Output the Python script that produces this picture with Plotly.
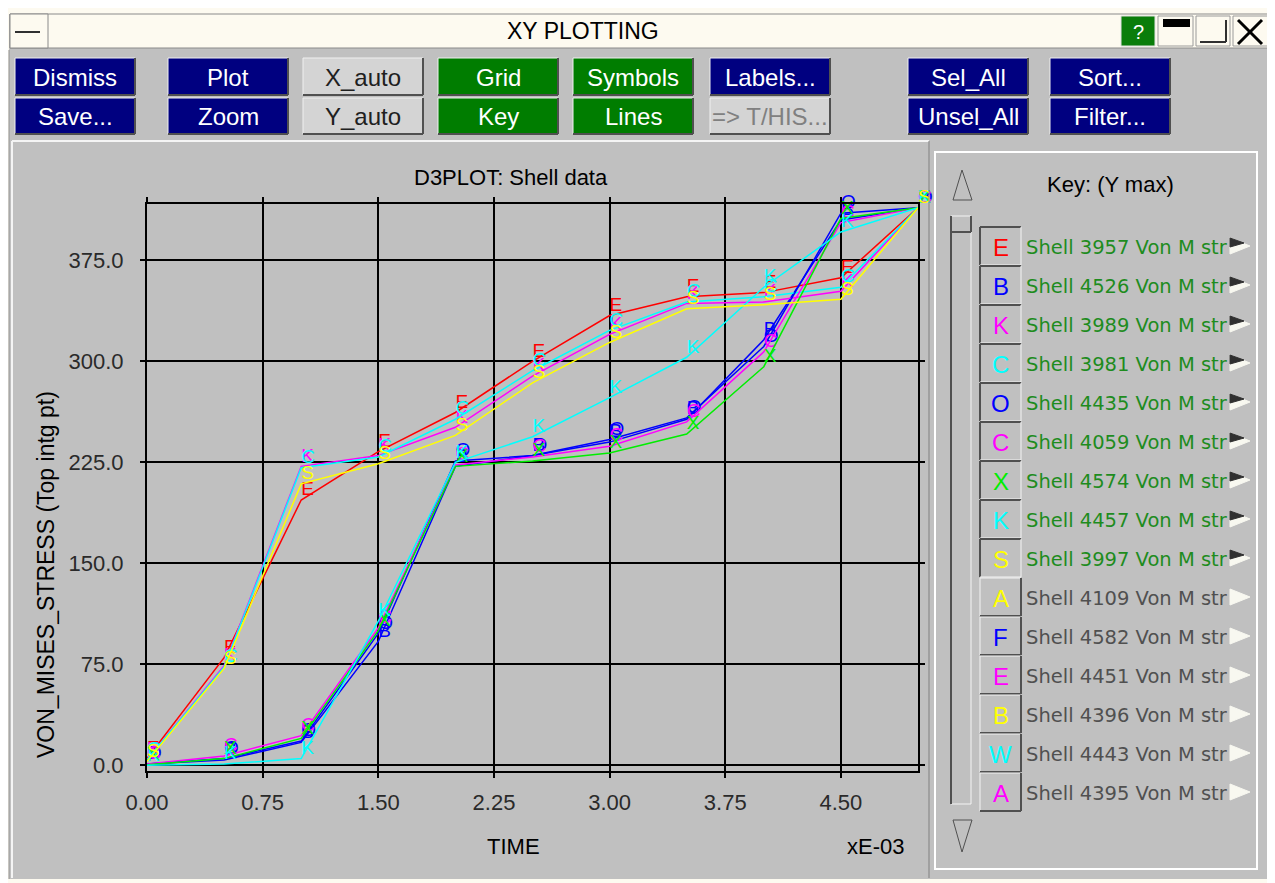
import plotly.graph_objects as go

# ---------------- data ----------------
TIME = [0.0, 0.5, 1.0, 1.5, 2.0, 2.5, 3.0, 3.5, 4.0, 4.5, 5.0]

SERIES_NAMES = ["Shell 3957", "Shell 4526", "Shell 3989", "Shell 3981", "Shell 4435",
                "Shell 4059", "Shell 4574", "Shell 4457", "Shell 3997"]
SERIES_SYMBOLS = ["E", "B", "K", "C", "O", "C", "X", "K", "S"]

s3957 = [5, 80, 197, 233, 262, 300, 334, 348, 351, 362, 414]
s4526 = [1, 4, 17, 92, 222, 230, 240, 257, 316, 405, 414]
s3989 = [4, 74, 222, 230, 251, 289, 320, 343, 344, 352, 414]
s3981 = [4, 73, 221, 229, 257, 293, 323, 344, 348, 355, 414]
s4435 = [1, 5, 18, 98, 226, 230, 242, 258, 311, 410, 414]
s4059 = [1, 7, 22, 102, 223, 229, 237, 255, 307, 403, 414]
s4574 = [0.5, 5, 20, 100, 222, 226, 232, 246, 296, 406, 414]
s4457 = [0, 1, 5, 107, 225, 244, 273, 303, 355, 396, 414]
s3997 = [3, 72, 209, 224, 245, 284, 314, 339, 342, 346, 414]
SERIES_VALUES = [s3957, s4526, s3989, s3981, s4435, s4059, s4574, s4457, s3997]

X_TICKS = [0.0, 0.75, 1.5, 2.25, 3.0, 3.75, 4.5]
X_TICKTEXT = ["0.00", "0.75", "1.50", "2.25", "3.00", "3.75", "4.50"]
Y_TICKS = [0, 75, 150, 225, 300, 375]
Y_TICKTEXT = ["0.0", "75.0", "150.0", "225.0", "300.0", "375.0"]

KEY_SYMBOLS = ["E", "B", "K", "C", "O", "C", "X", "K", "S", "A", "F", "E", "B", "W", "A"]
KEY_LABELS = ["Shell 3957 Von M str", "Shell 4526 Von M str", "Shell 3989 Von M str",
              "Shell 3981 Von M str", "Shell 4435 Von M str", "Shell 4059 Von M str",
              "Shell 4574 Von M str", "Shell 4457 Von M str", "Shell 3997 Von M str",
              "Shell 4109 Von M str", "Shell 4582 Von M str", "Shell 4451 Von M str",
              "Shell 4396 Von M str", "Shell 4443 Von M str", "Shell 4395 Von M str"]
KEY_SELECTED = [True] * 9 + [False] * 6

# ---------------- styles ----------------
RED, BLUE, MAG, CYAN, GREEN, YEL = "#ff0000", "#0000ff", "#ff00ff", "#00ffff", "#00ee00", "#ffff00"
SERIES_COLORS = [RED, BLUE, MAG, CYAN, BLUE, MAG, GREEN, CYAN, YEL]
KEY_COLORS = [RED, BLUE, MAG, CYAN, BLUE, MAG, GREEN, CYAN, YEL, YEL, BLUE, MAG, YEL, CYAN, MAG]

OFF = 8  # page body margin in the browser
W, H = 1275 - OFF, 883 - OFF
# screen-pixel plot area: x 147..918, y 204..771
ML = 147 - OFF
MT = 204 - OFF
MR = W - (918 - OFF)
MB = H - (771 - OFF)
PW = W - ML - MR
PH = H - MT - MB
GRAY = "#c0c0c0"
CREAM = "#fdfaf0"
FONT = "Liberation Sans, Arial, sans-serif"


def px(x):
    return (x - OFF - ML) / PW


def py(y):
    return (H - MB - (y - OFF)) / PH


shapes = []
annots = []


def rect(x0, y0, x1, y1, fill=None, line=None, lw=1):
    shapes.append(dict(type="rect", xref="paper", yref="paper",
                       x0=px(x0), x1=px(x1), y0=py(y0), y1=py(y1),
                       fillcolor=fill if fill else "rgba(0,0,0,0)",
                       line=dict(color=line if line else "rgba(0,0,0,0)", width=lw if line else 0),
                       layer="above"))


def line(x0, y0, x1, y1, color, lw=1):
    shapes.append(dict(type="line", xref="paper", yref="paper",
                       x0=px(x0), x1=px(x1), y0=py(y0), y1=py(y1),
                       line=dict(color=color, width=lw), layer="above"))


def path(pts, fill, color=None, lw=1):
    d = "M" + " L".join(f"{px(a)},{py(b)}" for a, b in pts) + " Z"
    shapes.append(dict(type="path", xref="paper", yref="paper", path=d,
                       fillcolor=fill, line=dict(color=color if color else fill, width=lw),
                       layer="above"))


def text(x, y, s, size, color="#000000", anchor="center", family=FONT, angle=0):
    annots.append(dict(x=px(x), y=py(y), xref="paper", yref="paper", text=s,
                       showarrow=False, xanchor=anchor, yanchor="middle",
                       textangle=angle, font=dict(size=size, color=color, family=family)))


# ---------------- window chrome ----------------
rect(0, 0, 1275, 14, fill=CREAM)
rect(0, 0, 9, 883, fill=CREAM)
rect(1268, 0, 1275, 883, fill=CREAM)
rect(0, 879, 1275, 883, fill=CREAM)
line(9, 50, 9, 879, "#909090", 1)
# title bar
rect(10, 14, 1268, 48, fill=CREAM, line="#8a8a8a", lw=1)
rect(10, 14, 48, 48, fill=CREAM, line="#8a8a8a", lw=1)
line(15, 32, 40, 32, "#303030", 2)
text(583, 31, "XY PLOTTING", 23)
rect(1121, 16, 1155, 46, fill="#0a7d0a", line="#e0e0e0")
text(1138, 32, "?", 20, "#ffffff")
rect(1158, 16, 1193, 46, fill=CREAM, line="#9a9a9a")
rect(1163, 19, 1190, 27, fill="#000000")
rect(1196, 16, 1230, 46, fill=CREAM, line="#9a9a9a")
line(1200, 42, 1226, 42, "#303030", 2)
line(1226, 20, 1226, 42, "#303030", 2)
rect(1233, 16, 1268, 46, fill=CREAM, line="#9a9a9a")
line(1238, 20, 1262, 44, "#000000", 3)
line(1262, 20, 1238, 44, "#000000", 3)

# buttons
NAVY, BGREEN, LGRAY = "#000080", "#007d00", "#d4d4d4"
cols = [(15, 135), (168, 288), (303, 423), (438, 558), (573, 693), (710, 830), (908, 1028), (1050, 1170)]
row1 = [("Dismiss", NAVY), ("Plot", NAVY), ("X_auto", LGRAY), ("Grid", BGREEN),
        ("Symbols", BGREEN), ("Labels...", NAVY), ("Sel_All", NAVY), ("Sort...", NAVY)]
row2 = [("Save...", NAVY), ("Zoom", NAVY), ("Y_auto", LGRAY), ("Key", BGREEN),
        ("Lines", BGREEN), ("=> T/HIS...", LGRAY), ("Unsel_All", NAVY), ("Filter...", NAVY)]
for (y0, y1), row in [((58, 95), row1), ((98, 134), row2)]:
    for (x0, x1), (lab, col) in zip(cols, row):
        rect(x0, y0, x1, y1, fill=col)
        line(x0, y0, x1, y0, "#f0f0f0", 1)
        line(x0, y0, x0, y1, "#f0f0f0", 1)
        line(x0, y1, x1, y1, "#505050", 2)
        line(x1, y0, x1, y1, "#505050", 2)
        if col == LGRAY:
            tc = "#808080" if lab.startswith("=>") else "#202020"
        else:
            tc = "#ffffff"
        text((x0 + x1) / 2, (y0 + y1) / 2 + 1, lab, 24, tc)

# plot panel border
line(12, 141, 929, 141, "#f4f4f4", 2)
line(12, 141, 12, 878, "#f4f4f4", 2)
line(929, 141, 929, 878, "#808080", 1)

# key panel
rect(935, 152, 1257, 869, line="#ffffff", lw=2)
text(1110, 184, "Key: (Y max)", 22)
path([(962, 170), (953, 200), (972, 200)], "rgba(0,0,0,0)", "#505050", 1)
path([(953, 820), (972, 820), (962, 852)], "rgba(0,0,0,0)", "#505050", 1)
rect(951, 216, 971, 804, fill=GRAY, line="#f4f4f4")
line(951, 216, 951, 804, "#505050", 2)
line(951, 232, 971, 232, "#505050", 2)
line(971, 216, 971, 232, "#505050", 2)

for i, (sym, col, lab, sel) in enumerate(zip(KEY_SYMBOLS, KEY_COLORS, KEY_LABELS, KEY_SELECTED)):
    y0 = 227 + 39 * i
    y1 = y0 + 38
    yc = (y0 + y1) / 2
    rect(980, y0, 1021, y1, fill=GRAY)
    if sel:
        line(980, y0, 1021, y0, "#505050", 2)
        line(980, y0, 980, y1, "#505050", 2)
        line(980, y1, 1021, y1, "#f4f4f4", 1)
        line(1021, y0, 1021, y1, "#f4f4f4", 1)
    else:
        line(980, y0, 1021, y0, "#f4f4f4", 1)
        line(980, y0, 980, y1, "#f4f4f4", 1)
        line(980, y1, 1021, y1, "#505050", 2)
        line(1021, y0, 1021, y1, "#505050", 2)
    text(1000.5, yc + 1, sym, 24, col)
    text(1024, yc + 1, lab, 19.5, "#1e8c1e" if sel else "#505050", anchor="left",
         family="DejaVu Sans, Verdana, sans-serif")
    rect(1229, y0 + 4, 1234, y1 - 4, fill=GRAY)
    path([(1230, yc - 8), (1250, yc), (1230, yc + 8)], "#f8f8f0")
    if sel:
        path([(1230, yc - 8), (1244, yc - 3), (1230, yc + 1)], "#303030")

# axis titles / texts
text(511, 178, "D3PLOT: Shell data", 22)
text(513, 846, "TIME", 22)
text(875, 846, "xE-03", 22)
text(46, 575, "VON_MISES_STRESS (Top intg pt)", 23, angle=-90)

# ---------------- traces ----------------
fig = go.Figure()
for name, sym, col, vals in zip(SERIES_NAMES, SERIES_SYMBOLS, SERIES_COLORS, SERIES_VALUES):
    fig.add_trace(go.Scatter(
        x=TIME, y=vals, name=name, mode="lines+text",
        text=[sym] * len(TIME), textposition="top right",
        textfont=dict(size=19, color=col, family=FONT),
        line=dict(color=col, width=1.5), cliponaxis=False, showlegend=False))

axis_common = dict(showgrid=True, gridcolor="#000000", gridwidth=2,
                   showline=True, linecolor="#000000", linewidth=2, mirror="allticks",
                   ticks="outside", ticklen=5, tickwidth=2, tickcolor="#000000",
                   tickfont=dict(size=22, color="#2a2a2a", family=FONT))
fig.update_xaxes(range=[0, 5.0], tickmode="array", tickvals=X_TICKS, ticktext=X_TICKTEXT,
                 zeroline=False, ticklabelstandoff=6, **axis_common)
fig.update_yaxes(range=[-4.2, 416.8], tickmode="array", tickvals=Y_TICKS, ticktext=Y_TICKTEXT,
                 zeroline=True, zerolinecolor="#000000", zerolinewidth=2,
                 ticklabelstandoff=12, **axis_common)

fig.update_layout(width=W, height=H, margin=dict(l=ML, r=MR, t=MT, b=MB),
                  paper_bgcolor=GRAY, plot_bgcolor=GRAY,
                  shapes=shapes, annotations=annots, showlegend=False)

fig.write_html("out.html")
